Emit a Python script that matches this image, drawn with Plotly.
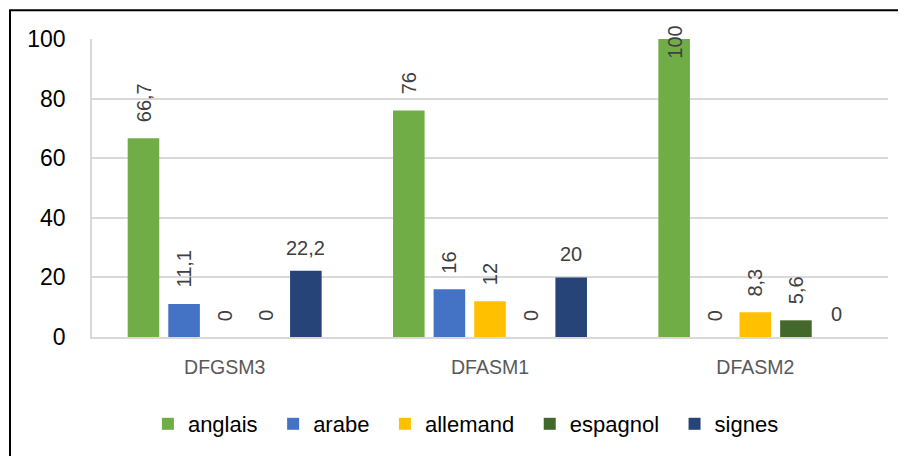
import plotly.graph_objects as go

categories = ["DFGSM3", "DFASM1", "DFASM2"]
series_names = ["anglais", "arabe", "allemand", "espagnol", "signes"]
anglais = [66.7, 76, 100]
arabe = [11.1, 16, 0]
allemand = [0, 12, 8.3]
espagnol = [0, 0, 5.6]
signes = [22.2, 20, 0]
y_ticks = [0, 20, 40, 60, 80, 100]

values = [anglais, arabe, allemand, espagnol, signes]
colors = ["#70AD47", "#4472C4", "#FFC000", "#43682B", "#264478"]
label_angle = [-90, -90, -90, -90, 0]

OFF = 8  # page body margin
W, H = 906, 456
ML, MT = 92 - OFF, 39 - OFF
PR, PB = 888 - OFF, 337 - OFF
MR, MB = W - PR, H - PB
PW = PR - ML
PH = PB - MT
BARGAP = 0.235
slot = PW / len(categories) * (1 - BARGAP) / len(series_names)

fig = go.Figure()
for name, vals, col in zip(series_names, values, colors):
    fig.add_trace(go.Bar(
        x=categories, y=vals, name=name + "\u00a0\u2009", marker=dict(color=col, line=dict(width=0)),
    ))

def fmt(v):
    return ("%g" % v).replace(".", ",")

annotations = []
for i, (vals, ang) in enumerate(zip(values, label_angle)):
    for cat, v in zip(categories, vals):
        a = dict(x=cat, y=v, xref="x", yref="y", text=fmt(v), showarrow=False,
                 textangle=ang, xanchor="center",
                 xshift=(i - 2) * slot,
                 font=dict(family="Liberation Sans, Arial, sans-serif", size=20, color="#404040"))
        if v >= 95:
            a.update(yanchor="top", yshift=15)
        elif ang == 0:
            a.update(yanchor="bottom", yshift=10)
        else:
            a.update(yanchor="bottom", yshift=14)
        annotations.append(a)

# outer chart border (figure pixel coords -> paper coords)
bx0, by0 = 10 - OFF, 10.3 - OFF
x0 = (bx0 - ML) / PW
x1 = (W + 20 - ML) / PW
y1 = (PB - by0) / PH
y0 = (PB - (H + 20)) / PH

fig.update_layout(
    width=W, height=H,
    margin=dict(l=ML, r=MR, t=MT, b=MB, autoexpand=False),
    paper_bgcolor="white", plot_bgcolor="white",
    barmode="group", bargap=BARGAP, bargroupgap=0.222,
    font=dict(family="Liberation Sans, Arial, sans-serif"),
    xaxis=dict(showgrid=False, showline=True, linecolor="#D9D9D9", linewidth=1.5,
               ticks="", ticklabelstandoff=12,
               tickfont=dict(size=19.5, color="#595959")),
    yaxis=dict(range=[0, 100], tickvals=y_ticks, showgrid=True, gridcolor="#D9D9D9",
               gridwidth=1.5, showline=True, linecolor="#D9D9D9", linewidth=1.5,
               ticks="", ticklabelstandoff=20, zeroline=False,
               tickfont=dict(size=23, color="#000000")),
    legend=dict(orientation="h", x=0.476, xanchor="center", y=(PB - (424 - OFF)) / PH,
                yanchor="middle", font=dict(size=22, color="#000000"),
                bgcolor="rgba(0,0,0,0)"),
    annotations=annotations,
    shapes=[dict(type="rect", xref="paper", yref="paper", x0=x0, x1=x1, y0=y0, y1=y1,
                 line=dict(color="black", width=2), fillcolor="rgba(0,0,0,0)", layer="above")],
)

fig.write_html("out.html")
